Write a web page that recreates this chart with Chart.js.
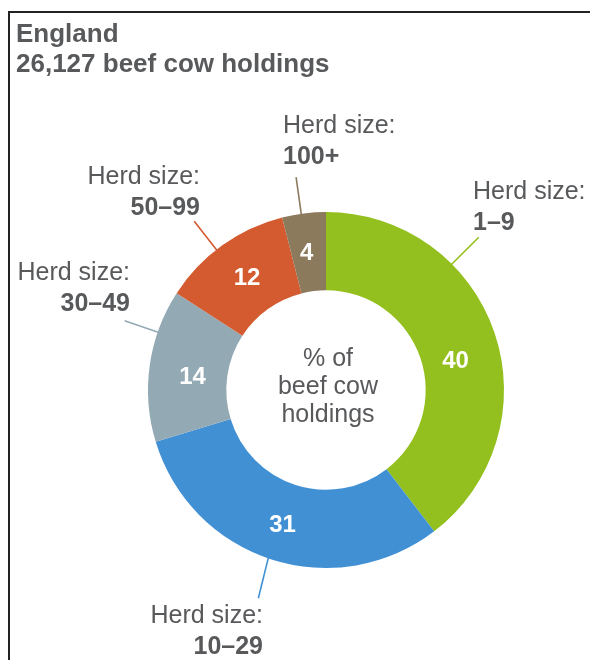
<!DOCTYPE html>
<html>
<head>
<meta charset="utf-8">
<script src="https://cdn.jsdelivr.net/npm/chart.js@4"></script>
<style>
  html, body { margin: 0; padding: 0; background: #fff; }
  .frame { position: absolute; left: 8px; top: 11px; width: 600px; height: 700px;
           border-top: 2px solid #222; border-left: 2px solid #222; }
  .title { position: absolute; left: 16px; top: 18px; font: bold 26px 'Liberation Sans', Arial, sans-serif;
           line-height: 30px; color: #58595B; }
  canvas { position: absolute; left: 0; top: 0; }
</style>
</head>
<body>
<div class="frame"></div>
<canvas id="herdChart" width="590" height="660"></canvas>
<div class="title">England<br>26,127 beef cow holdings</div>
<script>
const categories = ['1–9', '10–29', '30–49', '50–99', '100+'];
const shares = [40, 31, 14, 12, 4];
const sliceColors = ['#93C01F', '#4190D4', '#93AAB5', '#D45A30', '#8C7A5D'];
const centerLines = ['% of', 'beef cow', 'holdings'];

const textGrey = '#58595B';
const fontFamily = "'Liberation Sans', Arial, sans-serif";

// callout placement, relative to the donut centre (angles clockwise from 12 o'clock)
const calloutLayout = [
  { lineFrom: 45, lineTo: 45, lineLen: 216, x: 147, y: -191, align: 'left', nudge: [-2, 16] },
  { lineFrom: 199, lineTo: 198, lineLen: 219, x: -63, y: 233, align: 'right', nudge: [-1, 3] },
  { lineFrom: 289, lineTo: 289, lineLen: 213, x: -196, y: -110, align: 'right', nudge: [4, 7] },
  { lineFrom: 322, lineTo: 322, lineLen: 214, x: -126, y: -206, align: 'right', nudge: [2, 1] },
  { lineFrom: 352, lineTo: 352, lineLen: 215, x: -43, y: -257, align: 'left', nudge: [-2, 1] }
];

const donutText = {
  id: 'donutText',
  afterDraw(chart) {
    const ctx = chart.ctx;
    const arcs = chart.getDatasetMeta(0).data;
    const cx = arcs[0].x, cy = arcs[0].y, R = arcs[0].outerRadius;
    const polar = (deg, r) => {
      const a = deg * Math.PI / 180;
      return [cx + r * Math.sin(a), cy - r * Math.cos(a)];
    };
    ctx.save();

    // values inside the slices
    ctx.fillStyle = '#fff';
    ctx.font = `bold 24px ${fontFamily}`;
    ctx.textAlign = 'center';
    ctx.textBaseline = 'middle';
    arcs.forEach((arc, i) => {
      const p = arc.tooltipPosition();
      const [nx, ny] = calloutLayout[i].nudge;
      ctx.fillText(shares[i], p.x + nx, p.y + ny);
    });

    // centre caption
    ctx.fillStyle = textGrey;
    ctx.font = `25px ${fontFamily}`;
    ctx.textBaseline = 'alphabetic';
    centerLines.forEach((t, i) => ctx.fillText(t, cx + 2, cy - 24 + i * 28));

    // callouts with leader lines
    calloutLayout.forEach((c, i) => {
      const [x0, y0] = polar(c.lineFrom, R - 2);
      const [x1, y1] = polar(c.lineTo, c.lineLen);
      ctx.strokeStyle = sliceColors[i];
      ctx.lineWidth = 1.6;
      ctx.beginPath();
      ctx.moveTo(x0, y0);
      ctx.lineTo(x1, y1);
      ctx.stroke();

      ctx.textAlign = c.align;
      ctx.fillStyle = textGrey;
      ctx.font = `25px ${fontFamily}`;
      ctx.fillText('Herd size:', cx + c.x, cy + c.y);
      ctx.font = `bold 25px ${fontFamily}`;
      ctx.fillText(categories[i], cx + c.x, cy + c.y + 31);
    });
    ctx.restore();
  }
};

new Chart(document.getElementById('herdChart'), {
  type: 'doughnut',
  data: {
    labels: categories,
    datasets: [{
      data: shares,
      backgroundColor: sliceColors,
      borderWidth: 0,
      cutout: '56%'
    }]
  },
  options: {
    responsive: false,
    animation: false,
    layout: { padding: { left: 148, right: 86, top: 212, bottom: 92 } },
    plugins: { legend: { display: false }, tooltip: { enabled: false } },
    events: []
  },
  plugins: [donutText]
});
</script>
</body>
</html>
